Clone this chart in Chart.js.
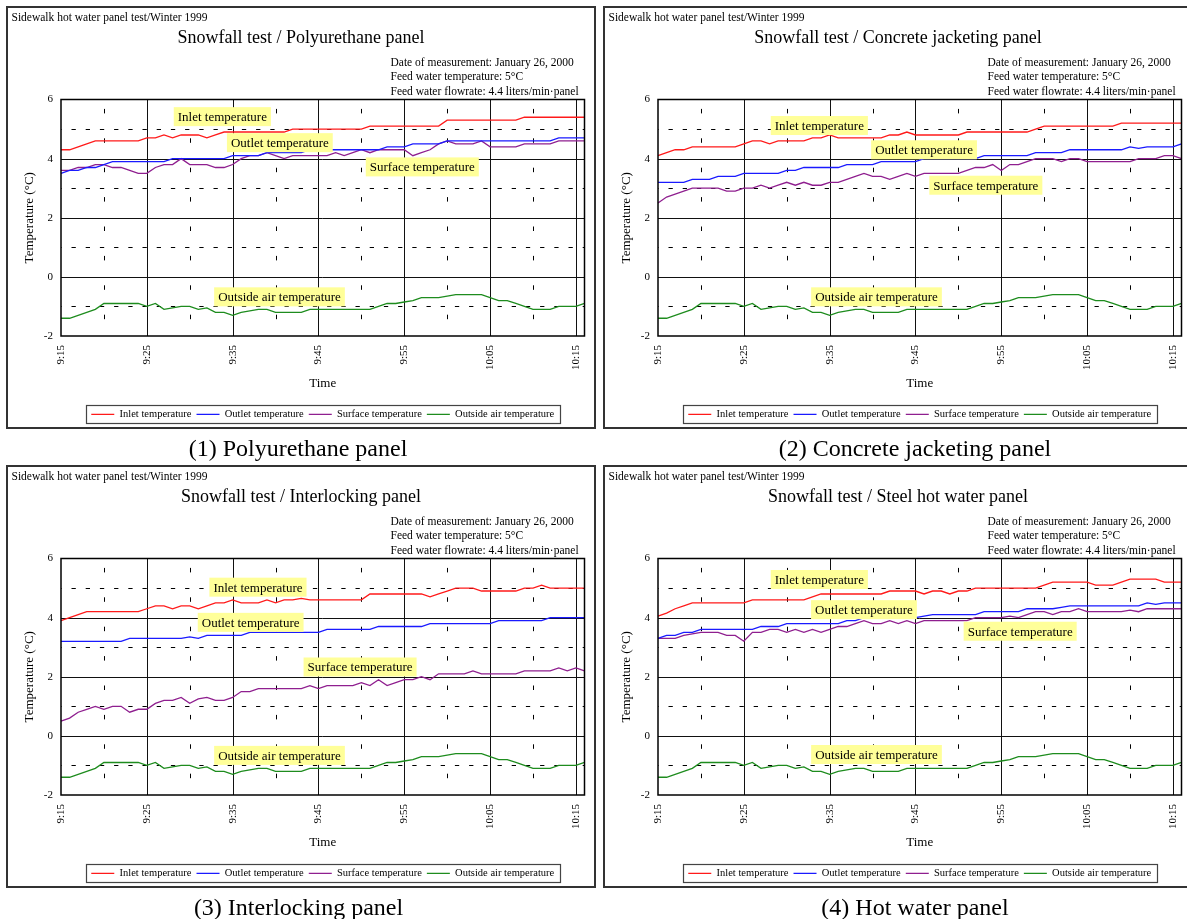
<!DOCTYPE html>
<html><head><meta charset="utf-8">
<script src="https://cdn.jsdelivr.net/npm/chart.js@4.4.1/dist/chart.umd.min.js"></script>
<style>
html,body{margin:0;padding:0;background:#fff;}
body{width:1187px;height:919px;position:relative;overflow:hidden;font-family:'Liberation Serif','Times New Roman',serif;color:#000;}
.panel{position:absolute;width:590px;height:423px;}
.panel canvas{position:absolute;left:0;top:0;}
.frame{position:absolute;left:0;top:0;right:0;bottom:0;border:2px solid #333;box-sizing:border-box;pointer-events:none;}
.hdr{position:absolute;left:5.5px;top:5.6px;font-size:11.5px;line-height:11.5px;white-space:nowrap;}
.ttl{position:absolute;left:0;width:590px;top:21.5px;font-size:18px;line-height:18px;text-align:center;white-space:nowrap;}
.info{position:absolute;left:384.5px;top:48.8px;font-size:11.5px;line-height:14.5px;white-space:nowrap;}
.cap{position:absolute;width:500px;font-size:24px;line-height:24px;text-align:center;white-space:nowrap;}
</style></head>
<body>
<div class="panel" style="left:6px;top:6px">
  <canvas id="c1" width="590" height="424"></canvas>
  <div class="frame"></div>
  <div class="hdr">Sidewalk hot water panel test/Winter 1999</div>
  <div class="ttl">Snowfall test / Polyurethane panel</div>
  <div class="info">Date of measurement: January 26, 2000<br>Feed water temperature: 5°C<br>Feed water flowrate: 4.4 liters/min·panel</div>
</div>
<div class="cap" style="left:48px;top:436px">(1) Polyurethane panel</div>

<div class="panel" style="left:603px;top:6px">
  <canvas id="c2" width="590" height="424"></canvas>
  <div class="frame"></div>
  <div class="hdr">Sidewalk hot water panel test/Winter 1999</div>
  <div class="ttl">Snowfall test / Concrete jacketing panel</div>
  <div class="info">Date of measurement: January 26, 2000<br>Feed water temperature: 5°C<br>Feed water flowrate: 4.4 liters/min·panel</div>
</div>
<div class="cap" style="left:665px;top:436px">(2) Concrete jacketing panel</div>

<div class="panel" style="left:6px;top:465px">
  <canvas id="c3" width="590" height="424"></canvas>
  <div class="frame"></div>
  <div class="hdr">Sidewalk hot water panel test/Winter 1999</div>
  <div class="ttl">Snowfall test / Interlocking panel</div>
  <div class="info">Date of measurement: January 26, 2000<br>Feed water temperature: 5°C<br>Feed water flowrate: 4.4 liters/min·panel</div>
</div>
<div class="cap" style="left:48.5px;top:894.5px">(3) Interlocking panel</div>

<div class="panel" style="left:603px;top:465px">
  <canvas id="c4" width="590" height="424"></canvas>
  <div class="frame"></div>
  <div class="hdr">Sidewalk hot water panel test/Winter 1999</div>
  <div class="ttl">Snowfall test / Steel hot water panel</div>
  <div class="info">Date of measurement: January 26, 2000<br>Feed water temperature: 5°C<br>Feed water flowrate: 4.4 liters/min·panel</div>
</div>
<div class="cap" style="left:665px;top:894.5px">(4) Hot water panel</div>

<script>
// ---------- categories (one reading per minute, 9:15 - 10:16) ----------
const timeLabels = ['9:15','9:16','9:17','9:18','9:19','9:20','9:21','9:22','9:23','9:24',
  '9:25','9:26','9:27','9:28','9:29','9:30','9:31','9:32','9:33','9:34',
  '9:35','9:36','9:37','9:38','9:39','9:40','9:41','9:42','9:43','9:44',
  '9:45','9:46','9:47','9:48','9:49','9:50','9:51','9:52','9:53','9:54',
  '9:55','9:56','9:57','9:58','9:59','10:00','10:01','10:02','10:03','10:04',
  '10:05','10:06','10:07','10:08','10:09','10:10','10:11','10:12','10:13','10:14',
  '10:15','10:16'];
const xTickLabels = ['9:15','9:25','9:35','9:45','9:55','10:05','10:15'];
const yTickValues = [-2, 0, 2, 4, 6];
const seriesNames = ['Inlet temperature','Outlet temperature','Surface temperature','Outside air temperature'];

// ---------- outside air temperature (same for all panels) ----------
const outsideAir = [-1.4,-1.4,-1.3,-1.2,-1.1,-0.9,-0.9,-0.9,-0.9,-0.9,
  -1.0,-0.9,-1.1,-1.05,-1.0,-1.0,-1.1,-1.05,-1.2,-1.2,
  -1.3,-1.2,-1.15,-1.1,-1.1,-1.2,-1.2,-1.2,-1.2,-1.1,
  -1.1,-1.1,-1.1,-1.1,-1.1,-1.1,-1.1,-1.0,-0.9,-0.9,
  -0.85,-0.8,-0.7,-0.7,-0.7,-0.65,-0.6,-0.6,-0.6,-0.6,
  -0.7,-0.8,-0.8,-0.9,-1.0,-1.1,-1.1,-1.1,-1.0,-1.0,
  -1.0,-0.9];

// ---------- (1) Polyurethane panel ----------
const inlet1 = [4.3,4.3,4.4,4.5,4.6,4.6,4.6,4.6,4.6,4.6,
  4.7,4.7,4.8,4.7,4.8,4.8,4.8,4.7,4.8,4.9,
  4.9,4.9,4.9,4.9,4.9,4.9,4.9,5.0,5.0,5.0,
  5.0,5.0,5.0,5.0,5.0,5.0,5.1,5.1,5.1,5.1,
  5.1,5.1,5.1,5.1,5.1,5.3,5.3,5.3,5.3,5.3,
  5.3,5.3,5.3,5.3,5.4,5.4,5.4,5.4,5.4,5.4,
  5.4,5.4];
const outlet1 = [3.5,3.6,3.6,3.7,3.7,3.8,3.9,3.9,3.9,3.9,
  3.9,3.9,3.9,4.0,4.0,4.0,4.0,4.0,4.0,4.0,
  4.1,4.1,4.1,4.1,4.2,4.2,4.2,4.2,4.2,4.3,
  4.3,4.3,4.3,4.3,4.3,4.3,4.3,4.3,4.4,4.4,
  4.4,4.5,4.5,4.5,4.5,4.6,4.6,4.6,4.6,4.6,
  4.6,4.6,4.6,4.6,4.6,4.6,4.6,4.6,4.7,4.7,
  4.7,4.7];
const surface1 = [3.6,3.6,3.7,3.7,3.8,3.8,3.7,3.7,3.6,3.5,
  3.5,3.7,3.8,3.8,4.0,3.8,3.8,3.8,3.7,3.7,
  3.8,4.0,4.1,4.1,4.2,4.1,4.0,4.1,4.1,4.1,
  4.1,4.1,4.2,4.1,4.2,4.3,4.2,4.3,4.3,4.3,
  4.3,4.1,4.2,4.3,4.5,4.6,4.5,4.5,4.5,4.6,
  4.4,4.4,4.4,4.4,4.5,4.5,4.5,4.5,4.6,4.6,
  4.6,4.6];

// ---------- (2) Concrete jacketing panel ----------
const inlet2 = [4.1,4.2,4.3,4.3,4.4,4.4,4.4,4.4,4.4,4.4,
  4.5,4.6,4.6,4.5,4.6,4.6,4.6,4.6,4.7,4.7,
  4.8,4.7,4.7,4.7,4.7,4.7,4.7,4.8,4.8,4.9,
  4.8,4.8,4.8,4.8,4.8,4.8,4.9,4.9,4.9,4.9,
  4.9,4.9,4.9,4.9,5.0,5.1,5.1,5.1,5.1,5.1,
  5.1,5.1,5.1,5.1,5.2,5.2,5.2,5.2,5.2,5.2,
  5.2,5.2];
const outlet2 = [3.2,3.2,3.2,3.2,3.3,3.3,3.3,3.4,3.4,3.4,
  3.5,3.5,3.5,3.5,3.5,3.6,3.6,3.7,3.7,3.7,
  3.7,3.7,3.8,3.8,3.8,3.8,3.9,3.9,3.9,3.9,
  3.9,4.0,4.0,4.0,4.0,4.0,4.0,4.0,4.1,4.1,
  4.1,4.1,4.1,4.1,4.2,4.2,4.2,4.2,4.3,4.3,
  4.3,4.3,4.3,4.3,4.3,4.4,4.35,4.4,4.4,4.4,
  4.4,4.5];
const surface2 = [2.5,2.7,2.8,2.9,3.0,3.0,3.0,3.0,2.9,2.9,
  3.0,3.0,3.1,3.0,3.1,3.2,3.1,3.2,3.1,3.1,
  3.2,3.2,3.3,3.4,3.5,3.4,3.4,3.3,3.4,3.5,
  3.4,3.5,3.5,3.5,3.5,3.5,3.6,3.7,3.7,3.8,
  3.6,3.8,3.8,3.9,4.0,4.0,4.0,3.9,4.0,4.0,
  3.9,3.9,3.9,3.9,3.9,3.9,4.0,4.0,4.0,4.1,
  4.1,4.0];

// ---------- (3) Interlocking panel ----------
const inlet3 = [3.9,4.0,4.1,4.2,4.2,4.2,4.2,4.2,4.2,4.2,
  4.3,4.4,4.4,4.3,4.4,4.4,4.3,4.4,4.5,4.5,
  4.6,4.5,4.5,4.5,4.6,4.5,4.6,4.6,4.65,4.6,
  4.6,4.6,4.6,4.6,4.6,4.6,4.8,4.8,4.8,4.8,
  4.8,4.8,4.8,4.7,4.8,4.9,5.0,5.0,5.0,4.9,
  4.9,4.9,4.9,4.9,5.0,5.0,5.1,5.0,5.0,5.0,
  5.0,5.0];
const outlet3 = [3.2,3.2,3.2,3.2,3.2,3.2,3.2,3.2,3.3,3.3,
  3.3,3.3,3.3,3.3,3.3,3.35,3.3,3.4,3.4,3.4,
  3.4,3.4,3.5,3.5,3.5,3.5,3.5,3.5,3.5,3.5,
  3.5,3.6,3.6,3.6,3.6,3.6,3.6,3.7,3.7,3.7,
  3.7,3.7,3.7,3.8,3.8,3.8,3.8,3.8,3.8,3.8,
  3.8,3.9,3.9,3.9,3.9,3.9,3.9,4.0,4.0,4.0,
  4.0,4.0];
const surface3 = [0.5,0.6,0.8,0.9,1.0,0.9,1.0,1.0,0.8,0.9,
  0.9,1.1,1.2,1.2,1.3,1.1,1.25,1.3,1.2,1.2,
  1.3,1.5,1.5,1.6,1.6,1.6,1.6,1.6,1.6,1.7,
  1.6,1.7,1.7,1.7,1.7,1.8,1.7,1.9,1.7,1.8,
  1.9,1.9,2.0,1.9,2.1,2.1,2.1,2.1,2.2,2.1,
  2.1,2.1,2.1,2.1,2.2,2.2,2.2,2.2,2.3,2.2,
  2.3,2.2];

// ---------- (4) Steel hot water panel ----------
const inlet4 = [4.05,4.15,4.3,4.4,4.5,4.5,4.5,4.5,4.5,4.5,
  4.5,4.6,4.6,4.6,4.6,4.6,4.6,4.6,4.7,4.8,
  4.8,4.8,4.8,4.8,4.8,4.8,4.8,4.9,4.9,4.9,
  4.9,4.8,4.9,4.9,4.8,4.9,4.9,5.0,5.0,5.0,
  5.0,5.0,5.0,5.0,5.0,5.1,5.2,5.2,5.2,5.2,
  5.2,5.1,5.1,5.1,5.2,5.3,5.3,5.3,5.3,5.2,
  5.2,5.2];
const outlet4 = [3.3,3.4,3.4,3.5,3.5,3.6,3.6,3.6,3.6,3.6,
  3.6,3.6,3.7,3.7,3.7,3.8,3.8,3.8,3.8,3.8,
  3.8,3.8,3.9,3.9,4.0,4.0,4.0,4.0,4.0,4.0,
  4.0,4.05,4.1,4.1,4.1,4.1,4.1,4.1,4.2,4.2,
  4.2,4.2,4.2,4.3,4.3,4.3,4.3,4.35,4.4,4.4,
  4.4,4.4,4.4,4.4,4.4,4.4,4.4,4.5,4.45,4.5,
  4.5,4.5];
const surface4 = [3.3,3.3,3.3,3.4,3.45,3.5,3.5,3.5,3.4,3.4,
  3.2,3.5,3.5,3.6,3.6,3.5,3.6,3.5,3.6,3.5,
  3.6,3.7,3.7,3.8,3.9,3.8,3.8,3.9,3.8,3.9,
  3.8,3.9,3.9,3.9,3.9,3.9,3.9,4.0,4.0,4.0,
  4.0,4.05,4.0,4.1,4.2,4.2,4.1,4.2,4.2,4.3,
  4.2,4.2,4.2,4.2,4.2,4.25,4.2,4.3,4.3,4.3,
  4.3,4.3];

// ---------- in-plot label positions [minute index, temperature] ----------
const notes1 = [['Inlet temperature',18.8,5.42],['Outlet temperature',25.5,4.54],['Surface temperature',42.1,3.72],['Outside air temperature',25.46,-0.675]];
const notes2 = [['Inlet temperature',18.8,5.12],['Outlet temperature',31.0,4.30],['Surface temperature',38.2,3.10],['Outside air temperature',25.46,-0.675]];
const notes3 = [['Inlet temperature',22.95,5.03],['Outlet temperature',22.1,3.84],['Surface temperature',34.85,2.33],['Outside air temperature',25.46,-0.66]];
const notes4 = [['Inlet temperature',18.8,5.29],['Outlet temperature',24.0,4.27],['Surface temperature',42.2,3.54],['Outside air temperature',25.46,-0.63]];

const COLORS = ['#ff1a1a','#1a1aff','#8f1f8f','#1e8c1e'];
const FONT = "'Liberation Serif','Times New Roman',serif";
Chart.defaults.font.family = FONT;
Chart.defaults.color = '#000';

function refPlugin(notes) {
  return {
    id: 'refGrid',
    beforeDatasetsDraw(chart) {
      const {ctx, chartArea: a, scales: {x, y}} = chart;
      ctx.save();
      ctx.lineWidth = 1;
      const yMin = yTickValues[0], yMax = yTickValues[yTickValues.length - 1];
      for (let v = yMin + 1; v < yMax; v++) {
        const py = Math.round(y.getPixelForValue(v)) + 0.5;
        ctx.beginPath();
        if (v % 2 === 0) { ctx.setLineDash([]); ctx.strokeStyle = '#111'; }
        else { ctx.setLineDash([4.3, 9.9]); ctx.lineDashOffset = 3.7; ctx.strokeStyle = '#000'; }
        ctx.moveTo(a.left, py); ctx.lineTo(a.right, py); ctx.stroke();
      }
      for (let i = 5; i < timeLabels.length; i += 5) {
        const px = Math.round(x.getPixelForValue(i)) + 0.5;
        ctx.beginPath();
        if (i % 10 === 0) { ctx.setLineDash([]); ctx.strokeStyle = '#111'; }
        else { ctx.setLineDash([4.5, 24.9]); ctx.lineDashOffset = 20; ctx.strokeStyle = '#000'; }
        ctx.moveTo(px, a.top); ctx.lineTo(px, a.bottom); ctx.stroke();
      }
      ctx.restore();
    },
    afterDatasetsDraw(chart) {
      const {ctx, chartArea: a, scales: {x, y}} = chart;
      ctx.save();
      ctx.setLineDash([]);
      ctx.lineWidth = 1.5;
      ctx.strokeStyle = '#000';
      ctx.strokeRect(a.left, a.top, a.right - a.left, a.bottom - a.top);
      ctx.font = '13px ' + FONT;
      ctx.textAlign = 'center';
      ctx.textBaseline = 'middle';
      for (const [text, t, v] of notes) {
        const cx = x.getPixelForValue(t), cy = y.getPixelForValue(v);
        const w = ctx.measureText(text).width + 8, h = 19;
        ctx.fillStyle = '#ffff99';
        ctx.fillRect(cx - w / 2, cy - h / 2, w, h);
        ctx.fillStyle = '#000';
        ctx.fillText(text, cx, cy + 1);
      }
      ctx.restore();
    },
    afterDraw(chart) {
      const lg = chart.legend;
      if (!lg || !lg.legendHitBoxes || !lg.legendHitBoxes.length) return;
      const hb = lg.legendHitBoxes;
      const x0 = Math.min(...hb.map(h => h.left)) - 5.5;
      const x1 = Math.max(...hb.map(h => h.left + h.width)) + 5.5;
      const cy = hb[0].top + hb[0].height / 2;
      const ctx = chart.ctx;
      ctx.save();
      ctx.lineWidth = 1.2;
      ctx.strokeStyle = '#444';
      ctx.strokeRect(Math.round(x0) + 0.5, Math.round(cy - 9.2) + 0.5, Math.round(x1 - x0), 18);
      ctx.restore();
    }
  };
}

function makeChart(id, inlet, outlet, surface, notes) {
  const series = [inlet, outlet, surface, outsideAir];
  new Chart(document.getElementById(id), {
    type: 'line',
    data: {
      labels: timeLabels,
      datasets: series.map((d, k) => ({
        label: seriesNames[k], data: d,
        borderColor: COLORS[k], backgroundColor: COLORS[k],
        borderWidth: 1.3, pointRadius: 0, tension: 0, fill: false
      }))
    },
    options: {
      responsive: false, animation: false, devicePixelRatio: 1,
      layout: { autoPadding: false, padding: { left: 0, right: 11.5, top: 93.5, bottom: 0.45 } },
      plugins: {
        title: { display: false },
        tooltip: { enabled: false },
        legend: {
          position: 'bottom', fullSize: false,
          labels: {
            usePointStyle: true, pointStyle: 'line', pointStyleWidth: 23,
            padding: 5, color: '#000', font: { size: 10.5, family: FONT }
          }
        }
      },
      scales: {
        x: {
          type: 'category',
          grid: { display: false, drawTicks: false },
          border: { display: false },
          ticks: {
            autoSkip: false, maxRotation: 90, minRotation: 90, padding: 9,
            font: { size: 11, family: FONT }, color: '#000',
            callback: (v, i) => xTickLabels.includes(timeLabels[i]) && i % 10 === 0 ? timeLabels[i] : ''
          },
          title: { display: true, text: 'Time', color: '#000', font: { size: 13, family: FONT }, padding: { top: 0, bottom: 12.75 } },
          afterFit: s => { s.height = 68.05; s.paddingLeft = 0; s.paddingRight = 0; }
        },
        y: {
          min: yTickValues[0], max: yTickValues[yTickValues.length - 1],
          grid: { display: false, drawTicks: false },
          border: { display: false },
          ticks: { stepSize: 2, padding: 8, font: { size: 11, family: FONT }, color: '#000' },
          title: { display: true, text: 'Temperature (°C)', color: '#000', font: { size: 13, family: FONT }, padding: { top: 15.7, bottom: 0 } },
          afterFit: s => { s.width = 55; s.paddingTop = 0; s.paddingBottom = 0; }
        }
      }
    },
    plugins: [refPlugin(notes)]
  });
}

makeChart('c1', inlet1, outlet1, surface1, notes1);
makeChart('c2', inlet2, outlet2, surface2, notes2);
makeChart('c3', inlet3, outlet3, surface3, notes3);
makeChart('c4', inlet4, outlet4, surface4, notes4);
</script>
</body></html>
